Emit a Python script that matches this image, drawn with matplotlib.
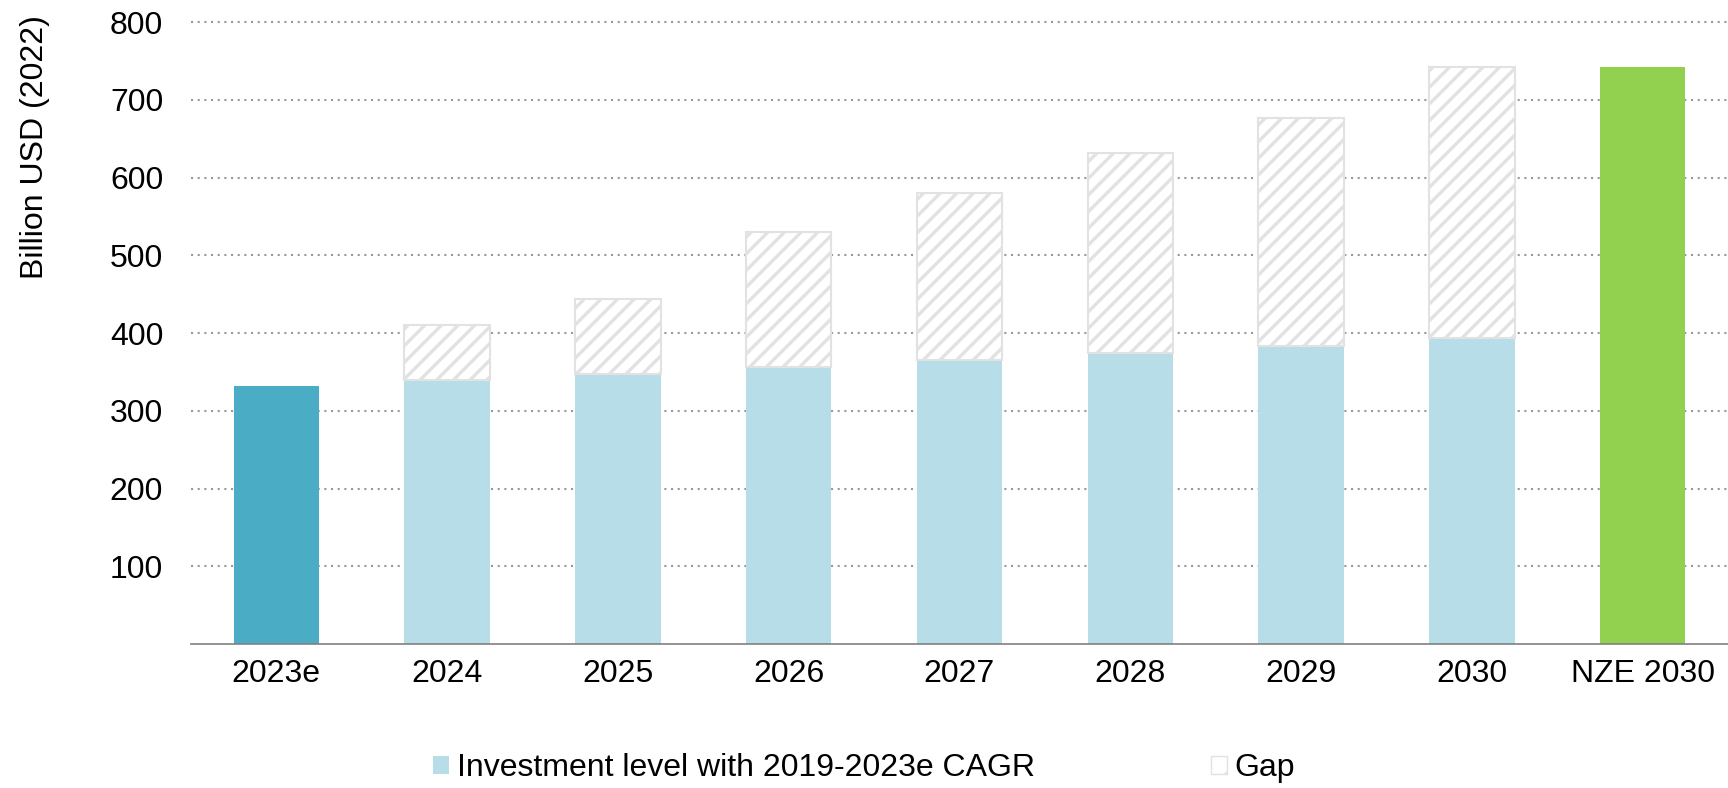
import matplotlib.pyplot as plt
from matplotlib.patches import Patch

plt.rcParams['font.family'] = ['Liberation Sans', 'DejaVu Sans']
plt.rcParams['hatch.linewidth'] = 2.4
plt.rcParams['hatch.color'] = '#e2e2e2'

## DATA
categories = ["2023e", "2024", "2025", "2026", "2027", "2028", "2029", "2030", "NZE 2030"]
base_values = [332, 340, 347, 357, 366, 374, 384, 394, 742]
gap_values = [0, 70, 97, 173, 214, 258, 293, 349, 0]
yticks = [100, 200, 300, 400, 500, 600, 700, 800]

# Colors
DARK_BLUE = "#4bacc6"
LIGHT_BLUE = "#b7dde8"
GREEN = "#92d050"
GAP_EDGE = "#e2e2e2"
GRID_COLOR = "#999999"
FS = 23

base_colors = [DARK_BLUE] + [LIGHT_BLUE] * 7 + [GREEN]

fig = plt.figure(figsize=(17.28, 7.88), dpi=100)
ax = fig.add_axes([0.1105, 0.1827, 0.8895, 0.794])

x = list(range(len(categories)))
ax.bar(x, base_values, width=0.5, color=base_colors, zorder=2)

# gap bars only where there is a gap
gx = [i for i in x if gap_values[i] > 0]
ax.bar(gx, [gap_values[i] for i in gx], bottom=[base_values[i] for i in gx],
       width=0.5, facecolor="white", edgecolor=GAP_EDGE, hatch="//",
       linewidth=1.5, zorder=2)

ax.set_xlim(-0.5, 8.5)
ax.set_ylim(0, 805)
ax.set_yticks(yticks)
ax.set_xticks(x)
ax.set_xticklabels(categories)
ax.tick_params(axis="both", length=0, labelsize=FS, colors="black")
ax.tick_params(axis="y", pad=20)
ax.tick_params(axis="x", pad=11)

ax.yaxis.grid(True, color=GRID_COLOR, linestyle=(0, (1, 2.2)), linewidth=1.5, zorder=0)
ax.set_axisbelow(True)
for s in ["top", "right", "left"]:
    ax.spines[s].set_visible(False)
ax.spines["bottom"].set_color("#808080")
ax.spines["bottom"].set_linewidth(1.2)

fig.text(0.02, 0.814, "Billion USD (2022)", rotation=90, ha="center", va="center", fontsize=FS)

handles = [Patch(facecolor=LIGHT_BLUE, edgecolor="none"),
           Patch(facecolor="white", edgecolor=GAP_EDGE, hatch="/", linewidth=1)]
fig.legend(handles, ["Investment level with 2019-2023e CAGR", "Gap"],
           loc="center", bbox_to_anchor=(0.5, 0.0254), ncol=2, frameon=False,
           fontsize=FS, handlelength=0.5, handleheight=0.5, handletextpad=0.25,
           columnspacing=5.5)

plt.savefig("out.png", dpi=100)
